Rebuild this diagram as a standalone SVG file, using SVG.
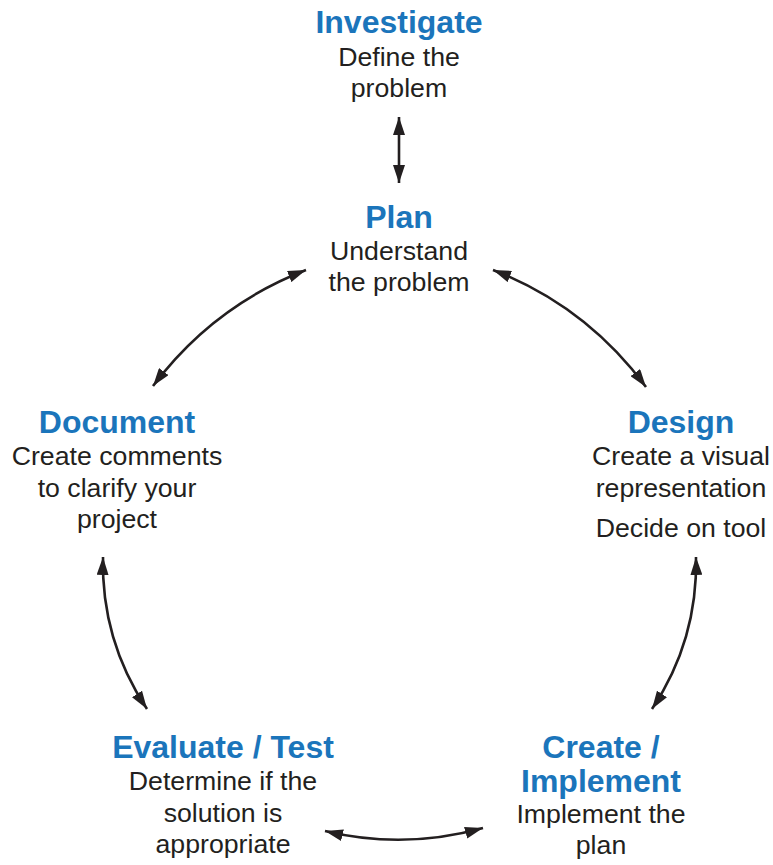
<svg xmlns="http://www.w3.org/2000/svg" width="773" height="865" viewBox="0 0 773 865">
<style>
.t{font-family:"Liberation Sans",Arial,Helvetica,sans-serif;font-weight:bold;font-size:32px;fill:#1b75bb;text-anchor:middle}
.b{font-family:"Liberation Sans",Arial,Helvetica,sans-serif;font-size:26.7px;fill:#231f20;text-anchor:middle}
.c{fill:none;stroke:#231f20;stroke-width:2.6}
</style>
<defs>
<marker id="ah" viewBox="0 0 18 12" refX="18" refY="6" markerWidth="18" markerHeight="12" markerUnits="userSpaceOnUse" orient="auto-start-reverse">
<path d="M0,0 L18,6 L0,12 Z" fill="#231f20"/>
</marker>
</defs>
<rect width="773" height="865" fill="#ffffff"/>
<g id="connectors">
<path class="c" d="M399,117 L399,183" marker-start="url(#ah)" marker-end="url(#ah)"/>
<path class="c" d="M306,270 Q213,306 153,386" marker-start="url(#ah)" marker-end="url(#ah)"/>
<path class="c" d="M493,270 Q586,306 646,387" marker-start="url(#ah)" marker-end="url(#ah)"/>
<path class="c" d="M103,557 Q101,640 147,709" marker-start="url(#ah)" marker-end="url(#ah)"/>
<path class="c" d="M696,557 Q698,640 652,709" marker-start="url(#ah)" marker-end="url(#ah)"/>
<path class="c" d="M325,831 Q404,850 483,828" marker-start="url(#ah)" marker-end="url(#ah)"/>
</g>
<g id="investigate">
<text class="t" x="399" y="33">Investigate</text>
<text class="b" x="399" y="66">Define the</text>
<text class="b" x="399" y="97">problem</text>
</g>
<g id="plan">
<text class="t" x="399" y="228">Plan</text>
<text class="b" x="399" y="260">Understand</text>
<text class="b" x="399" y="291">the problem</text>
</g>
<g id="design">
<text class="t" x="681" y="433">Design</text>
<text class="b" x="681" y="465">Create a visual</text>
<text class="b" x="681" y="497">representation</text>
<text class="b" x="681" y="537">Decide on tool</text>
</g>
<g id="document">
<text class="t" x="117" y="433">Document</text>
<text class="b" x="117" y="465">Create comments</text>
<text class="b" x="117" y="497">to clarify your</text>
<text class="b" x="117" y="528">project</text>
</g>
<g id="evaluate">
<text class="t" x="223" y="758">Evaluate / Test</text>
<text class="b" x="223" y="790">Determine if the</text>
<text class="b" x="223" y="822">solution is</text>
<text class="b" x="223" y="853">appropriate</text>
</g>
<g id="create">
<text class="t" x="601" y="758">Create /</text>
<text class="t" x="601" y="792">Implement</text>
<text class="b" x="601" y="823">Implement the</text>
<text class="b" x="601" y="854">plan</text>
</g>
</svg>
